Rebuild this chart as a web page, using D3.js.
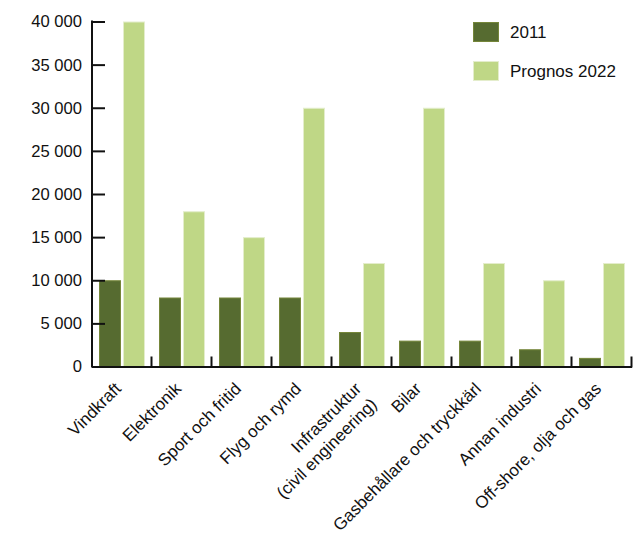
<!DOCTYPE html>
<html><head><meta charset="utf-8">
<script src="https://cdn.jsdelivr.net/npm/d3@7"></script>
<style>body{margin:0;background:#fff}svg{display:block}text{font-family:"Liberation Sans",Arial,sans-serif;fill:#111}</style>
</head><body>
<script>
const categories = [["Vindkraft"],["Elektronik"],["Sport och fritid"],["Flyg och rymd"],["Infrastruktur","(civil engineering)"],["Bilar"],["Gasbehållare och tryckkärl"],["Annan industri"],["Off-shore, olja och gas"]];
const series2011 = [10000,8000,8000,8000,4000,3000,3000,2000,1000];
const series2022 = [40000,18000,15000,30000,12000,30000,12000,10000,12000];
const seriesNames = ["2011","Prognos 2022"];
const yTicks = [0,5000,10000,15000,20000,25000,30000,35000,40000];
const colors = ["#566b30","#bfd786"];
const strokes = ["#75863a","#e4edcc"];

const W=637,H=536;
const svg=d3.select("body").append("svg").attr("width",W).attr("height",H);
const x0=92,x1=632,yTop=21.5,yBot=366.5;
const keys=categories.map((c,i)=>i);
const x=d3.scaleBand().domain(keys).range([x0,x1]).paddingInner(0).paddingOuter(0);
const y=d3.scaleLinear().domain([0,40000]).range([yBot,yTop]);
const fmt=v=>d3.format(",")(v).replace(/,/g," ");

// bars
const bw=22, gap=2, pad=7;
const g=svg.append("g");
[series2011,series2022].forEach((s,si)=>{
  g.selectAll(".b"+si).data(s).enter().append("rect")
   .attr("x",(d,i)=>x(i)+pad+si*(bw+gap)+0.5)
   .attr("y",d=>y(d)+0.5)
   .attr("width",bw-1)
   .attr("height",d=>yBot-y(d)-0.5)
   .attr("fill",colors[si]).attr("stroke",strokes[si]).attr("stroke-width",1);
});

// y axis
const ya=svg.append("g").attr("transform",`translate(${x0},0)`)
  .call(d3.axisRight(y).tickValues(yTicks).tickSize(13).tickFormat(""));
ya.select(".domain").remove();
ya.selectAll(".tick line").attr("stroke","#111").attr("stroke-width",2);
svg.append("line").attr("x1",x0).attr("x2",x0).attr("y1",yTop-1).attr("y2",yBot+1).attr("stroke","#111").attr("stroke-width",2);
svg.append("g").selectAll("text").data(yTicks).enter().append("text")
  .attr("x",82).attr("y",d=>y(d)).attr("dy","0.36em").attr("text-anchor","end")
  .attr("font-size",16.6).text(fmt);

// x axis
svg.append("line").attr("x1",x0).attr("x2",x1).attr("y1",yBot+0.5).attr("y2",yBot+0.5).attr("stroke","#111").attr("stroke-width",2);
const bounds=keys.slice(1).map(i=>x(i)).concat([x1]);
svg.append("g").selectAll("line").data(bounds).enter().append("line")
  .attr("x1",d=>d-0.5).attr("x2",d=>d-0.5).attr("y1",yBot-10).attr("y2",yBot+1)
  .attr("stroke","#111").attr("stroke-width",2);

// x labels
const lab=svg.append("g").selectAll("g").data(categories).enter().append("g")
  .attr("transform",(d,i)=>`translate(${x(i)+x.bandwidth()/2-4},${yBot+19}) rotate(-45)`);
lab.each(function(d){
  const t=d3.select(this).append("text").attr("text-anchor","end").attr("font-size",17);
  d.forEach((line,k)=>t.append("tspan").attr("x",0).attr("dy",k===0?"0.35em":"1.3em").text(line));
});

// legend
const leg=svg.append("g");
seriesNames.forEach((n,i)=>{
  leg.append("rect").attr("x",473.5).attr("y",22.5+i*39).attr("width",25).attr("height",19)
    .attr("fill",colors[i]).attr("stroke",strokes[i]);
  leg.append("text").attr("x",510).attr("y",32+i*39).attr("dy","0.36em").attr("font-size",17).text(n);
});
</script>
</body></html>
